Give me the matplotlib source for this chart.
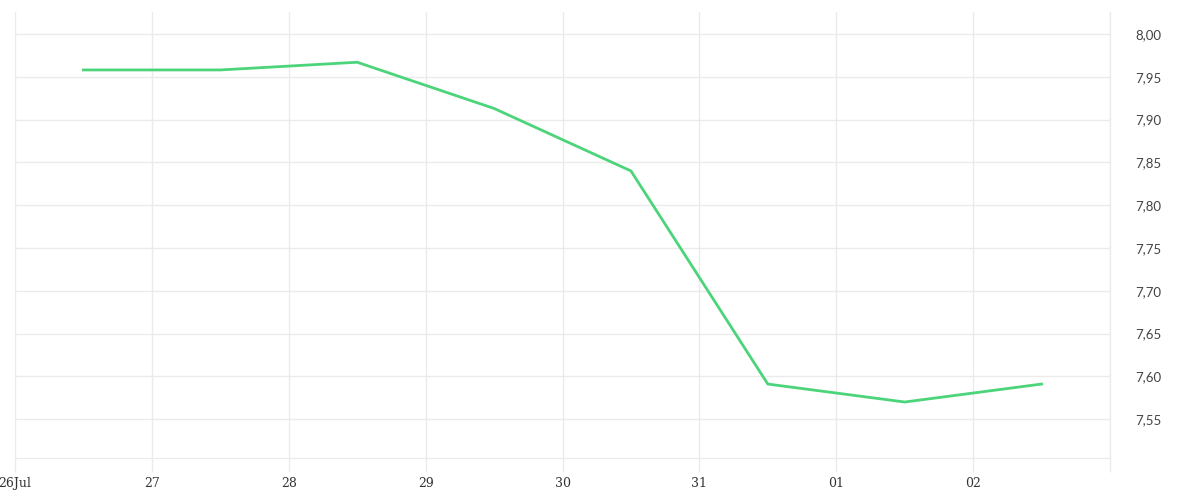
import matplotlib
matplotlib.use("Agg")
import matplotlib.pyplot as plt
from datetime import datetime, timedelta

# daily values, plotted at midday
days = ["2024-07-26", "2024-07-27", "2024-07-28", "2024-07-29",
        "2024-07-30", "2024-07-31", "2024-08-01", "2024-08-02"]
values = [7.958, 7.958, 7.967, 7.913, 7.840, 7.591, 7.570, 7.591]
tick_labels = ["26Jul", "27", "28", "29", "30", "31", "01", "02"]
y_ticks = [7.55, 7.60, 7.65, 7.70, 7.75, 7.80, 7.85, 7.90, 7.95, 8.00]

grid_col = "#ebebeb"
line_col = "#4cd47b"

dates = [datetime.strptime(d, "%Y-%m-%d") for d in days]
x = [d + timedelta(hours=12) for d in dates]

fig = plt.figure(figsize=(12, 5), dpi=100)
ax = fig.add_axes([15 / 1200, 42 / 500, 1095 / 1200, 446 / 500])

ax.plot(x, values, color=line_col, lw=2.0, solid_joinstyle="miter", zorder=3)

x_end = dates[-1] + timedelta(days=1)
ax.set_xlim(dates[0], x_end)
ax.set_ylim(7.5046, 8.0257)

ax.set_xticks(dates + [x_end])
ax.set_xticklabels(tick_labels + [""], family="DejaVu Serif", fontsize=9, color="#333333")
ax.set_yticks(y_ticks)
ax.set_yticklabels([("%.2f" % v).replace(".", ",") for v in y_ticks],
                   fontsize=9.5, color="#444444", family="Lato")
ax.yaxis.tick_right()

ax.tick_params(axis="x", length=10, width=1, color=grid_col, pad=4)
ax.tick_params(axis="y", length=0, pad=18)

ax.grid(True, color=grid_col, lw=1)
ax.set_axisbelow(True)
# right edge line, drawn in full
ax.axvline(x_end, color=grid_col, lw=1, clip_on=False, zorder=0)
for s in ["top", "left", "right"]:
    ax.spines[s].set_visible(False)
ax.spines["bottom"].set_color(grid_col)

fig.savefig("out.png", dpi=100)
